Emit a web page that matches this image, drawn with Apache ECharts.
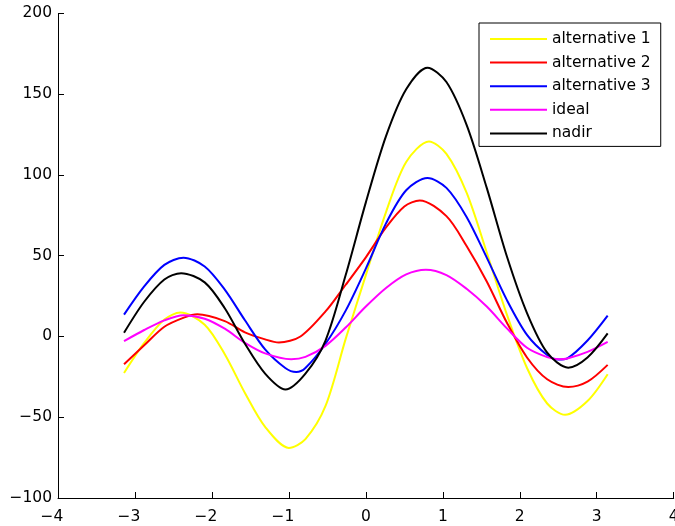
<!DOCTYPE html>
<html>
<head>
<meta charset="utf-8">
<script src="https://cdn.jsdelivr.net/npm/echarts@6/dist/echarts.min.js"></script>
<style>
html,body{margin:0;padding:0;background:#fff;}
#c{width:675px;height:526px;}
</style>
</head>
<body>
<div id="c"></div>
<script>
// alternative 1 (yellow)
const alt1X = [-3.142, -2.880, -2.618, -2.41, -2.094, -1.833, -1.571, -1.309, -1.0, -0.785, -0.524, -0.262, 0, 0.262, 0.524, 0.82, 1.047, 1.309, 1.571, 1.833, 2.094, 2.356, 2.59, 2.880, 3.142];
const alt1Y = [-22.6, -4, 10.5, 14.8, 7.3, -11, -35, -56, -69, -63.5, -43, -1.5, 38, 77, 108, 120.7, 113, 89, 52, 13.5, -19.5, -41.5, -48.5, -40, -23.4];
// alternative 2 (red)
const alt2X = [-3.142, -2.880, -2.618, -2.356, -2.19, -1.833, -1.571, -1.309, -1.13, -0.85, -0.524, -0.262, 0, 0.262, 0.50, 0.70, 1.047, 1.309, 1.571, 1.833, 2.094, 2.356, 2.63, 2.880, 3.142];
const alt2Y = [-17.2, -5.5, 6, 11.8, 13.7, 9.5, 2.5, -1.8, -3.7, 0, 15.5, 32, 49, 67.5, 80.5, 84.2, 74.5, 56, 34, 8.5, -13, -26.5, -31.3, -28, -17.6];
// alternative 3 (blue)
const alt3X = [-3.142, -2.880, -2.618, -2.37, -2.094, -1.833, -1.571, -1.309, -1.047, -0.905, -0.785, -0.524, -0.262, 0, 0.262, 0.524, 0.80, 1.047, 1.309, 1.571, 1.833, 2.094, 2.356, 2.50, 2.618, 2.880, 3.142];
const alt3Y = [13.5, 31, 44.3, 48.8, 43.3, 29, 10, -8, -19.5, -22, -19.5, -4.5, 16, 42, 70, 90.5, 98.1, 92, 74, 48.8, 22.5, 1, -11.5, -14.3, -13.5, -2.5, 12.9];
// ideal (magenta)
const idealX = [-3.142, -2.880, -2.618, -2.37, -2.094, -1.833, -1.571, -1.309, -0.97, -0.785, -0.524, -0.262, 0, 0.262, 0.524, 0.78, 1.047, 1.309, 1.571, 1.833, 2.094, 2.356, 2.51, 2.618, 2.880, 3.142];
const idealY = [-2.9, 4, 10, 13.2, 11, 4.8, -4, -10.5, -14.1, -12.6, -5.8, 5.5, 18.5, 30, 38.4, 41.3, 38, 29.5, 18.5, 5, -7, -12.8, -14.1, -13.6, -9.5, -3.3];
// nadir (black)
const nadirX = [-3.142, -2.880, -2.618, -2.40, -2.094, -1.833, -1.571, -1.309, -1.045, -0.785, -0.524, -0.262, 0, 0.262, 0.524, 0.80, 1.047, 1.309, 1.571, 1.833, 2.094, 2.356, 2.63, 2.880, 3.142];
const nadirY = [2.3, 21.5, 35.3, 39.2, 33.5, 17.5, -4.5, -23, -32.8, -23, -2.5, 38, 83, 124, 153, 166.4, 157.5, 131, 92, 49.5, 14.5, -10, -19.3, -13, 1.9];

const seriesNames = ['alternative 1', 'alternative 2', 'alternative 3', 'ideal', 'nadir'];
const seriesXs = [alt1X, alt2X, alt3X, idealX, nadirX];
const seriesYs = [alt1Y, alt2Y, alt3Y, idealY, nadirY];
const seriesColors = ['#ffff00', '#ff0000', '#0000ff', '#ff00ff', '#000000'];

const xTicks = {min: -4, max: 4, interval: 1};
const yTicks = {min: -100, max: 200, interval: 50};

const FONT = '"DejaVu Sans", sans-serif';
const FS = 15.5;
const minus = '\u2212';
const fmtY = v => (v < 0 ? minus + Math.abs(v) : String(v));
const fmtX = v => (v < 0 ? '{n|' + minus + Math.abs(v) + '}' : String(v));

const chart = echarts.init(document.getElementById('c'), null, {renderer: 'canvas'});
chart.setOption({
  animation: false,
  backgroundColor: '#fff',
  grid: {left: 58, right: 1.3, top: 13.4, bottom: 28, containLabel: false, outerBoundsMode: 'none'},
  legend: {
    orient: 'vertical',
    left: 479,
    top: 23,
    padding: [8, 10, 5, 11],
    icon: 'rect',
    itemWidth: 57,
    itemHeight: 2,
    itemGap: 7.6,
    backgroundColor: '#fff',
    borderColor: '#000',
    borderWidth: 1,
    textStyle: {fontFamily: FONT, fontSize: FS, color: '#000'},
    data: seriesNames
  },
  xAxis: {
    type: 'value',
    min: xTicks.min, max: xTicks.max, interval: xTicks.interval,
    axisLine: {show: true, onZero: false, lineStyle: {color: '#000', width: 1}},
    axisTick: {show: true, inside: true, length: 6, lineStyle: {color: '#000'}},
    axisLabel: {
      fontFamily: FONT, fontSize: FS, color: '#000', margin: 11,
      formatter: fmtX, showMinLabel: true, showMaxLabel: true, hideOverlap: false,
      rich: {n: {fontFamily: FONT, fontSize: FS, color: '#000', padding: [0, 12, 0, 0]}}
    },
    splitLine: {show: false}
  },
  yAxis: {
    type: 'value',
    min: yTicks.min, max: yTicks.max, interval: yTicks.interval,
    axisLine: {show: true, onZero: false, lineStyle: {color: '#000', width: 1}},
    axisTick: {show: true, inside: true, length: 6, lineStyle: {color: '#000'}},
    axisLabel: {fontFamily: FONT, fontSize: FS, color: '#000', margin: 6, formatter: fmtY},
    splitLine: {show: false}
  },
  series: seriesNames.map((name, i) => ({
    name: name,
    type: 'line',
    data: seriesXs[i].map((x, j) => [x, seriesYs[i][j]]),
    smooth: 0.3,
    symbol: 'none',
    clip: false,
    color: seriesColors[i],
    itemStyle: {color: seriesColors[i]},
    lineStyle: {color: seriesColors[i], width: 2}
  }))
});
</script>
</body>
</html>
